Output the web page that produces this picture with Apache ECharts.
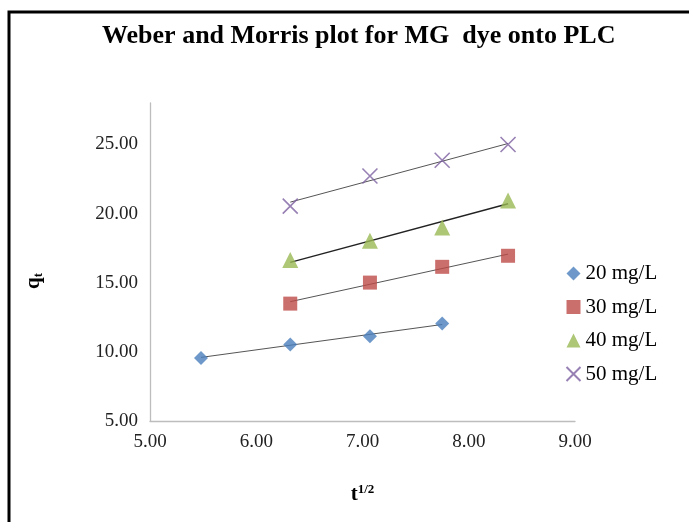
<!DOCTYPE html>
<html>
<head>
<meta charset="utf-8">
<script src="https://cdn.jsdelivr.net/npm/echarts@6/dist/echarts.min.js"></script>
<style>
    html, body { margin: 0; padding: 0; background: #fff; }
    #main { width: 689px; height: 522px; }
</style>
</head>
<body>
<div id="main"></div>
<script>
// t^(1/2) values
var x20 = [5.48, 6.32, 7.07, 7.75]
var xRest = [6.32, 7.07, 7.75, 8.37]

// qt values
var q20 = [9.56, 10.53, 11.13, 12.05]
var q30 = [13.49, 15.01, 16.15, 16.95]
var q40 = [16.64, 18.04, 19.0, 20.95]
var q50 = [20.54, 22.72, 23.86, 25.0]

// trend line ends [x, y]
var trendStart = [[5.48, 9.6], [6.32, 13.63], [6.32, 16.47], [6.32, 20.83]]
var trendEnd = [[7.75, 11.98], [8.37, 17.07], [8.37, 20.71], [8.37, 25.07]]

var names = ['20 mg/L', '30 mg/L', '40 mg/L', '50 mg/L']
var colors = ['#4a7ebb', '#be4b48', '#98b954', '#7d60a0']
var serif = '"Liberation Serif", "DejaVu Serif", serif'

function pairs(xs, ys) {
    let out = []
    xs.forEach(function (x, i) {
        out.push([x, ys[i]])
    })
    return out
}

var chart = echarts.init(document.getElementById('main'))

var points = [pairs(x20, q20), pairs(xRest, q30), pairs(xRest, q40), pairs(xRest, q50)]
var symbols = ['diamond', 'rect', 'triangle', 'path://M0,0 L10,10 M10,0 L0,10']
var sizes = [14, 14, 16, 15]

var series = []
// trend lines first so markers sit on top
trendStart.forEach(function (s, i) {
    series.push({
        name: 'trend' + i,
        type: 'line',
        data: [s, trendEnd[i]],
        symbol: 'none',
        lineStyle: { color: i === 2 ? '#222' : '#555', width: i === 2 ? 1.4 : 1 },
        silent: true,
        z: 1
    })
})
points.forEach(function (d, i) {
    series.push({
        name: names[i],
        type: 'scatter',
        data: d,
        symbol: symbols[i],
        symbolSize: sizes[i],
        itemStyle: i === 3
            ? { color: 'none', borderColor: colors[i], borderWidth: 1.6 }
            : { color: colors[i] },
        z: 2
    })
})

var option = {
    animation: false,
    backgroundColor: '#fff',
    title: {
        text: 'Weber and Morris plot for MG  dye onto PLC',
        left: 97,
        top: 18,
        textStyle: { fontFamily: serif, fontSize: 26, fontWeight: 'bold', color: '#000' }
    },
    graphic: [{
        type: 'rect',
        shape: { x: 9, y: 12, width: 700, height: 530 },
        style: { fill: 'none', stroke: '#000', lineWidth: 3 },
        silent: true
    }, {
        // y axis name, placed by hand like in the source
        type: 'text',
        x: 34,
        y: 281,
        rotation: Math.PI / 2,
        style: {
            text: '{b|q}{s|t}',
            align: 'center',
            verticalAlign: 'middle',
            rich: {
                b: { fontFamily: serif, fontSize: 21, fontWeight: 'bold', fill: '#000' },
                s: { fontFamily: serif, fontSize: 13, fontWeight: 'bold', fill: '#000', verticalAlign: 'top', padding: [9, 0, 0, 0] }
            }
        },
        silent: true
    }],
    legend: {
        data: names,
        orient: 'vertical',
        left: 559,
        top: 258,
        itemWidth: 14,
        itemHeight: 14,
        itemGap: 12.5,
        itemTextGap: 4,
        textStyle: { fontFamily: serif, fontSize: 21, color: '#000', lineHeight: 21 }
    },
    grid: { left: 150, right: 114, top: 103, bottom: 101 },
    xAxis: {
        type: 'value',
        min: 5,
        max: 9,
        interval: 1,
        name: '{b|t}{s|1/2}',
        nameLocation: 'middle',
        nameGap: 62,
        nameTextStyle: {
            rich: {
                b: { fontFamily: serif, fontSize: 21, fontWeight: 'bold', color: '#000' },
                s: { fontFamily: serif, fontSize: 13, fontWeight: 'bold', color: '#000', verticalAlign: 'bottom', padding: [0, 0, 10, 0] }
            }
        },
        axisLine: { lineStyle: { color: '#bdbdbd', width: 1.3 } },
        axisTick: { show: false },
        splitLine: { show: false },
        axisLabel: {
            margin: 12,
            fontFamily: serif,
            fontSize: 19,
            color: '#222',
            formatter: function (v) { return v.toFixed(2) }
        }
    },
    yAxis: {
        type: 'value',
        min: 5,
        max: 28,
        interval: 5,
        axisLine: { show: true, lineStyle: { color: '#bdbdbd', width: 1.3 } },
        axisTick: { show: false },
        splitLine: { show: false },
        axisLabel: {
            margin: 12,
            showMaxLabel: false,
            fontFamily: serif,
            fontSize: 19,
            color: '#222',
            formatter: function (v) { return v % 5 === 0 ? v.toFixed(2) : '' }
        }
    },
    series: series
}

chart.setOption(option)
</script>
</body>
</html>
